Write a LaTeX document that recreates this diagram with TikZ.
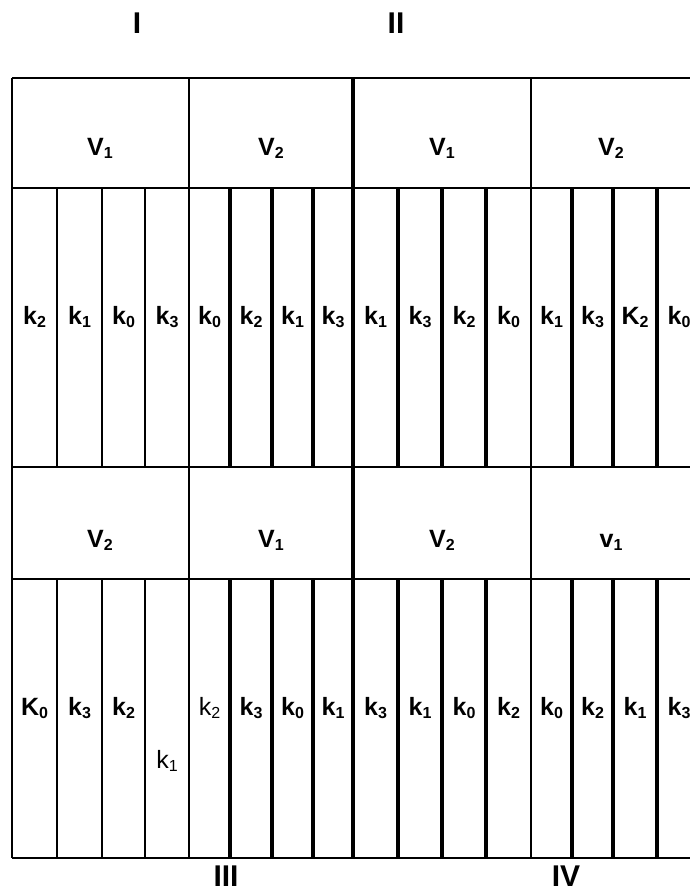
\documentclass[tikz,border=0pt]{standalone}
\usepackage{fontspec}
\setmainfont{Liberation Sans}
\newcommand\lab[2]{#1\raisebox{-0.3ex}{\fontsize{16}{16}\selectfont #2}}
\tikzset{
  hline/.style={line width=1.8pt},
  thinv/.style={line width=1.3pt},
  thickv/.style={line width=3.5pt},
  midv/.style={line width=4.5pt},
  lbl/.style={anchor=base, inner sep=0pt, font=\fontsize{25}{25}\selectfont\bfseries},
  lblreg/.style={anchor=base, inner sep=0pt, font=\fontsize{25}{25}\selectfont},
  roman/.style={anchor=base, inner sep=0pt, font=\fontsize{30}{30}\selectfont\bfseries}
}
\begin{document}
\begin{tikzpicture}[x=1pt,y=-1pt]
\useasboundingbox (0,0) rectangle (690,892);
\clip (0,0) rectangle (690,892);
% horizontal lines
\foreach \yy in {78,188,467,579,858} \draw[hline] (12,\yy) -- (702,\yy);
% full-height verticals
\draw[thinv] (12,78) -- (12,858);
\draw[thinv] (189,78) -- (189,858);
\draw[thinv] (531,78) -- (531,858);
\draw[midv] (353,78) -- (353,858);
% column lines in k rows
\foreach \y/\z in {188/467,579/858}{
  \foreach \xx in {57,102,145} \draw[thinv] (\xx,\y) -- (\xx,\z);
  \foreach \xx in {230,272,313,398,442,486,572,613,657} \draw[thickv] (\xx,\y) -- (\xx,\z);
}
% roman numerals
\node[roman] (r1) at (137,33) {I};
\node[roman] (r2) at (396,33) {II};
\node[roman] (r3) at (226,886) {III};
\node[roman] (r4) at (566,886) {IV};
% headers row 1
\node[lbl] (h11) at (100,155) {\lab{V}{1}};
\node[lbl] (h12) at (271,155) {\lab{V}{2}};
\node[lbl] (h13) at (442,155) {\lab{V}{1}};
\node[lbl] (h14) at (611,155) {\lab{V}{2}};
% headers row 2
\node[lbl] (h21) at (100,547) {\lab{V}{2}};
\node[lbl] (h22) at (271,547) {\lab{V}{1}};
\node[lbl] (h23) at (442,547) {\lab{V}{2}};
\node[lbl] (h24) at (611,547) {\lab{v}{1}};
% row 1 k labels
\foreach \n/\xx/\t in {1/34.5/k2,2/79.5/k1,3/123.5/k0,4/167/k3,5/209.5/k0,6/251/k2,7/292.5/k1,8/333/k3,
  9/375.5/k1,10/420/k3,11/464/k2,12/508.5/k0,13/551.5/k1,14/592.5/k3,15/635/K2,16/679/k0}{
  \node[lbl] (a\n) at (\xx,324) {\expandafter\lab\t};
}
% row 2 k labels
\foreach \n/\xx/\t in {1/34.5/K0,2/79.5/k3,3/123.5/k2,6/251/k3,7/292.5/k0,8/333/k1,
  9/375.5/k3,10/420/k1,11/464/k0,12/508.5/k2,13/551.5/k0,14/592.5/k2,15/635/k1,16/679/k3}{
  \node[lbl] (b\n) at (\xx,715) {\expandafter\lab\t};
}
\node[lblreg] (b4) at (167,768) {\lab{k}{1}};
\node[lblreg] (b5) at (209.5,715) {\lab{k}{2}};
\end{tikzpicture}
\end{document}
